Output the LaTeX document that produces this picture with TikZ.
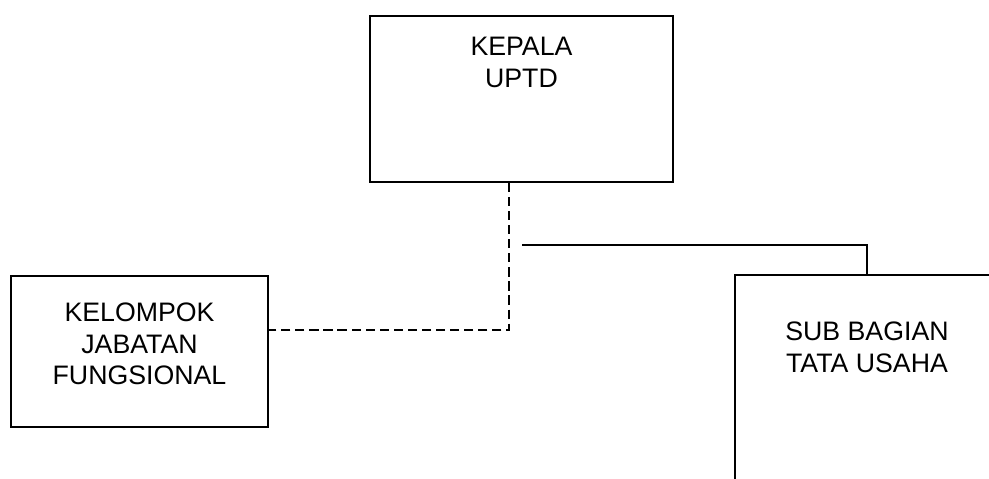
\documentclass[tikz,border=0pt]{standalone}
\usepackage{fontspec}
\setmainfont{Liberation Sans}
\usetikzlibrary{positioning,calc}

\begin{document}
\begin{tikzpicture}[x=0.025cm,y=0.025cm,
  unit/.style={draw,line width=1.4pt,inner sep=0pt},
  unitname/.style={align=center,inner sep=0pt,font=\fontsize{19}{22.3}\selectfont},
  dashline/.style={line width=1.1pt,dash pattern=on 6.5pt off 3.5pt},
  solidline/.style={line width=1.2pt}]
\useasboundingbox (0,0) rectangle (989,479);
\clip (0,0) rectangle (989,479);
% boxes
\node[unit,minimum width=7.575cm,minimum height=4.15cm] (kepala) at (521.5,380) {};
\node[unit,minimum width=6.425cm,minimum height=3.775cm] (kelompok) at (139.5,127.5) {};
\node[unit,minimum width=6.6cm,minimum height=6.25cm] (subbag) at (867,79) {};
\node[unitname,below=0.55cm of kepala.north] (kepalaname) {KEPALA\\UPTD};
\node[unitname,below=0.7cm of kelompok.north] (kelompokname) {KELOMPOK\\JABATAN\\FUNGSIONAL};
\node[unitname,below=1.2cm of subbag.north] (subbagname) {SUB BAGIAN\\TATA USAHA};
% lines
\coordinate (branch) at (522,234);
\draw[dashline] ($(kepala.south)+(-12.5,0)$) |- ($(kelompok.east)+(0,21.5)$);
\draw[solidline] (branch) -| (subbag.north);
\end{tikzpicture}
\end{document}
